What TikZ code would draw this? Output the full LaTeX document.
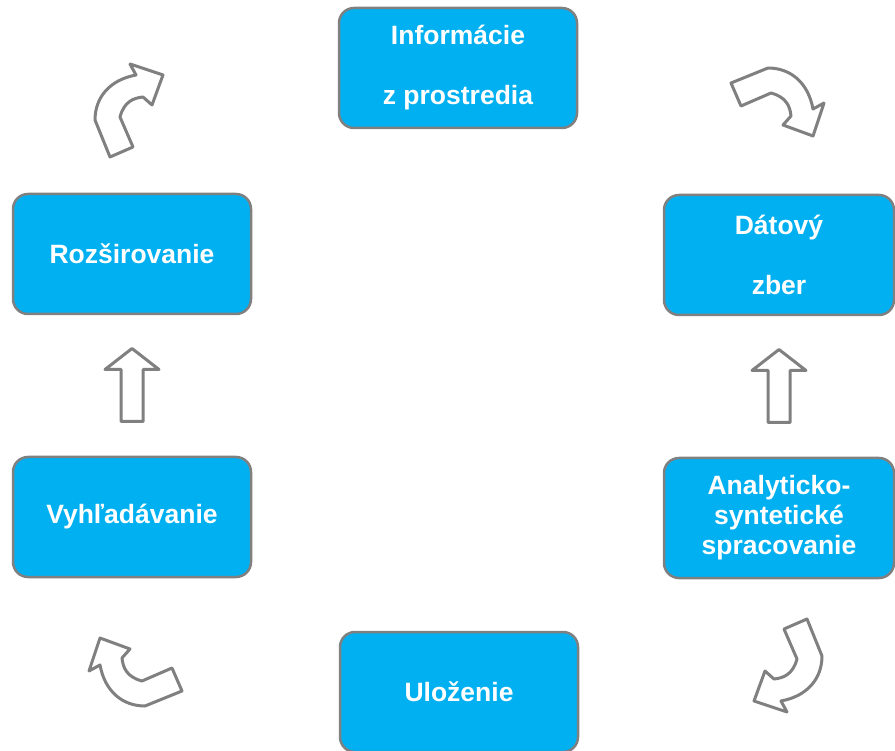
\documentclass[tikz,border=0pt]{standalone}
\usepackage{fontspec}
\setmainfont{Liberation Sans}
\usetikzlibrary{positioning, calc}
\definecolor{boxblue}{HTML}{00B0F0}
\definecolor{edgegray}{HTML}{808080}

\begin{document}
\begin{tikzpicture}[x=1pt,y=-1pt,line join=round]
\tikzstyle{stage}=[rectangle,rounded corners=15pt,draw=edgegray,line width=2.5pt,fill=boxblue,
  text=white,font=\fontsize{26.5}{30}\selectfont\bfseries,align=center,
  minimum width=238pt,minimum height=120pt,inner sep=0pt]
\tikzstyle{narrow}=[minimum width=230pt]
\tikzstyle{blockarrow}=[draw=edgegray,line width=3pt,fill=white]
\tikzset{
  bentarrow/.pic={
    \path[blockarrow,yscale=-1] (-19,-47) -- (4,-37) -- (-9,-7)
      .. controls (-5,8) and (4,12) .. (14,13) -- (23,5) -- (34,35) -- (1,46) -- (7,35)
      .. controls (-20,30) and (-34,12) .. (-34,-10) -- cycle;
  },
  uparrow/.pic={
    \path[blockarrow,yscale=-1] (-11,-36) -- (11,-36) -- (11,16) -- (27,16) -- (0,37)
      -- (-27,16) -- (-11,16) -- cycle;
  }
}
  \useasboundingbox (0,0) rectangle (895,751);
  \clip (0,0) rectangle (895,751);

  %--- nodes ---
  \node[stage] (1) at (458,68) {Informácie\\[30pt]z prostredia};
  \node[stage,narrow] (2) at (779,255) {Dátový\\[30pt]zber};
  \node[stage,narrow] (3) at (779,518) {Analyticko-\\syntetické\\spracovanie};
  \node[stage] (4) at (459,692) {Uloženie};
  \node[stage] (5) at (132,517) {Vyhľadávanie};
  \node[stage] (6) at (132,254) {Rozširovanie};

  %--- arrows ---
  \pic at (129,110) {bentarrow};
  \pic[rotate=-90] at (778,102) {bentarrow};
  \pic[rotate=180] at (788,666) {bentarrow};
  \pic[rotate=90] at (135,672) {bentarrow};
  \pic at ($(5.north)!0.5!(6.south)$) {uparrow};
  \pic at ($(3.north)!0.5!(2.south)$) {uparrow};
\end{tikzpicture}
\end{document}
